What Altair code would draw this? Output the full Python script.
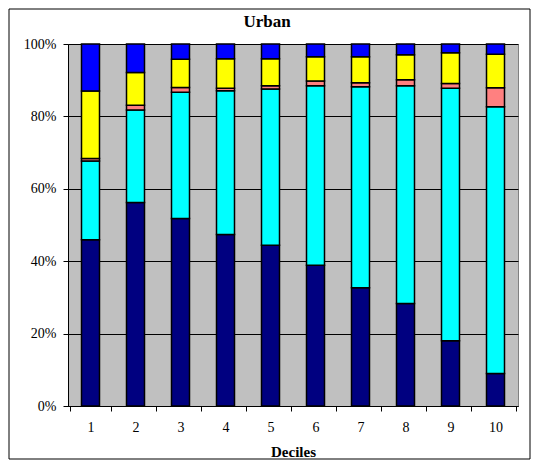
import altair as alt
import pandas as pd

deciles = [1, 2, 3, 4, 5, 6, 7, 8, 9, 10]
series_names = ["Series 1", "Series 2", "Series 3", "Series 4", "Series 5"]
series_colors = ["#000080", "#00FFFF", "#FF8080", "#FFFF00", "#0000FF"]
s1 = [45.9, 56.2, 51.8, 47.4, 44.4, 38.9, 32.7, 28.3, 18.0, 9.0]
s2 = [21.8, 25.6, 34.9, 39.7, 43.2, 49.6, 55.5, 60.2, 69.8, 73.7]
s3 = [0.7, 1.3, 1.3, 0.7, 0.9, 1.3, 1.1, 1.6, 1.3, 5.2]
s4 = [18.6, 9.0, 7.8, 8.1, 7.4, 6.7, 7.2, 6.9, 8.5, 9.3]
s5 = [13.0, 7.9, 4.2, 4.1, 4.1, 3.5, 3.5, 3.0, 2.4, 2.8]

rows = []
for k, (name, vals) in enumerate(zip(series_names, [s1, s2, s3, s4, s5])):
    for d, v in zip(deciles, vals):
        rows.append({"decile": d, "series": name, "value": v, "order": k})
df = pd.DataFrame(rows)

FONT = "Liberation Serif, Times New Roman, serif"

bars = alt.Chart(df).mark_bar(size=18, stroke="black", strokeWidth=1.5).encode(
    x=alt.X("decile:O", title="Deciles",
            scale=alt.Scale(domain=deciles),
            axis=alt.Axis(labelAngle=0, tickBand="extent", tickSize=5, tickColor="black",
                          domainColor="black", labelFont=FONT, labelFontSize=14,
                          labelColor="black", labelPadding=9, titleFont=FONT,
                          titleFontSize=15, titleFontWeight="bold", titleColor="black",
                          titlePadding=10, grid=False)),
    y=alt.Y("value:Q", stack="normalize", title=None,
            scale=alt.Scale(domain=[0, 1]),
            axis=alt.Axis(format=".0%", values=[0, 0.2, 0.4, 0.6, 0.8, 1.0],
                          tickSize=5, tickColor="black", domainColor="black",
                          labelFont=FONT, labelFontSize=14, labelColor="black",
                          labelPadding=7, grid=True, gridColor="black",
                          gridWidth=1)),
    color=alt.Color("series:N", scale=alt.Scale(domain=series_names, range=series_colors),
                    legend=None),
    order=alt.Order("order:Q", sort="ascending"),
)

border = alt.Chart(pd.DataFrame({"b": [0]})).mark_rect(
    fill="transparent", stroke="black", strokeWidth=1, clip=False
).encode(
    x=alt.value(-59), x2=alt.value(462), y=alt.value(-35), y2=alt.value(415)
)

chart = alt.layer(bars, border).properties(
    width=450, height=362,
    title=alt.TitleParams("Urban", font=FONT, fontSize=17, fontWeight="bold",
                          color="black", anchor="middle", frame="group", dx=-26,
                          offset=14, dy=36),
    autosize=alt.AutoSizeParams(type="none"),
    padding={"left": 60, "top": 36, "right": 13, "bottom": 54},
    background="white",
).configure_view(
    fill="#C0C0C0", stroke="#808080", strokeWidth=1
)

chart.save("out.html", embed_options={"renderer": "svg", "actions": False})
